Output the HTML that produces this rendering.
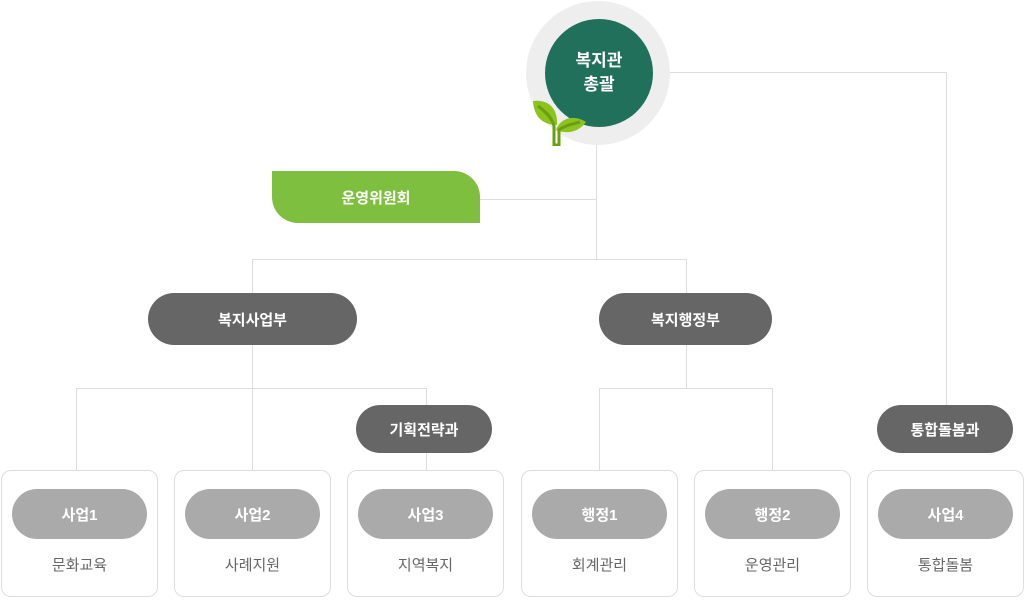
<!DOCTYPE html>
<html><head><meta charset="utf-8"><style>
body{margin:0;width:1025px;height:606px;background:#fff;position:relative;overflow:hidden;font-family:"Liberation Sans","Noto Sans CJK KR",sans-serif}
.a{position:absolute}
.l{position:absolute;background:#ddd}
.p{position:absolute;display:flex;align-items:center;justify-content:center;color:#fff;font-size:15px;font-weight:bold}
.dk{background:#666;border-radius:26px}
.box{position:absolute;top:470px;width:157px;height:127px;border:1px solid #ddd;border-radius:10px;background:#fff;box-sizing:border-box}
.gp{position:absolute;left:10px;top:18px;width:135px;height:50px;border-radius:25px;background:#aaa;color:#fff;font-size:15px;font-weight:bold;display:flex;align-items:center;justify-content:center}
.t{position:absolute;left:0;right:0;top:83px;text-align:center;color:#666;font-size:15px}
</style></head><body>
<div class="l" style="left:596px;top:140px;width:1px;height:120px"></div>
<div class="l" style="left:660px;top:72px;width:287px;height:1px"></div>
<div class="l" style="left:946px;top:72px;width:1px;height:337px"></div>
<div class="l" style="left:478px;top:199px;width:119px;height:1px"></div>
<div class="l" style="left:252px;top:259px;width:434px;height:1px"></div>
<div class="l" style="left:252px;top:259px;width:1px;height:212px"></div>
<div class="l" style="left:686px;top:259px;width:1px;height:129px"></div>
<div class="l" style="left:76px;top:388px;width:350px;height:1px"></div>
<div class="l" style="left:76px;top:388px;width:1px;height:83px"></div>
<div class="l" style="left:426px;top:388px;width:1px;height:83px"></div>
<div class="l" style="left:599px;top:388px;width:173px;height:1px"></div>
<div class="l" style="left:599px;top:388px;width:1px;height:83px"></div>
<div class="l" style="left:772px;top:388px;width:1px;height:83px"></div>

<div class="a" style="left:526px;top:1px;width:144px;height:144px;border-radius:50%;background:#eee"></div>
<div class="p" style="left:545px;top:19px;width:108px;height:108px;border-radius:50%;background:#20705c;font-size:17px;line-height:24px;text-align:center">복지관<br>총괄</div>
<svg class="a" style="left:532px;top:100px" width="56" height="46" viewBox="0 0 56 46">
<path d="M1 1 C16 -1 26 8 25 25 C12 25 2 18 1 1Z" fill="#8dc21f"/>
<path d="M24 30 C28 18 42 14 54 22 C46 33 34 34 24 30Z" fill="#8dc21f"/>
<path d="M6 6 C14 12 20 18 22 26 L22 45 L27 45 L27 30 C32 26 40 24 48 22" stroke="#6aa00f" stroke-width="3" fill="none"/>
</svg>

<div class="p" style="left:272px;top:171px;width:208px;height:52px;background:#7fbf3f;border-radius:0 26px 0 26px;font-size:15px">운영위원회</div>
<div class="p dk" style="left:148px;top:293px;width:209px;height:52px">복지사업부</div>
<div class="p dk" style="left:599px;top:293px;width:173px;height:52px">복지행정부</div>
<div class="p dk" style="left:356px;top:405px;width:136px;height:48px;border-radius:24px">기획전략과</div>
<div class="p dk" style="left:877px;top:405px;width:136px;height:48px;border-radius:24px">통합돌봄과</div>

<div class="box" style="left:1px"><div class="gp">사업1</div><div class="t">문화교육</div></div>
<div class="box" style="left:174px"><div class="gp">사업2</div><div class="t">사례지원</div></div>
<div class="box" style="left:347px"><div class="gp">사업3</div><div class="t">지역복지</div></div>
<div class="box" style="left:521px"><div class="gp">행정1</div><div class="t">회계관리</div></div>
<div class="box" style="left:694px"><div class="gp">행정2</div><div class="t">운영관리</div></div>
<div class="box" style="left:867px"><div class="gp">사업4</div><div class="t">통합돌봄</div></div>
</body></html>
